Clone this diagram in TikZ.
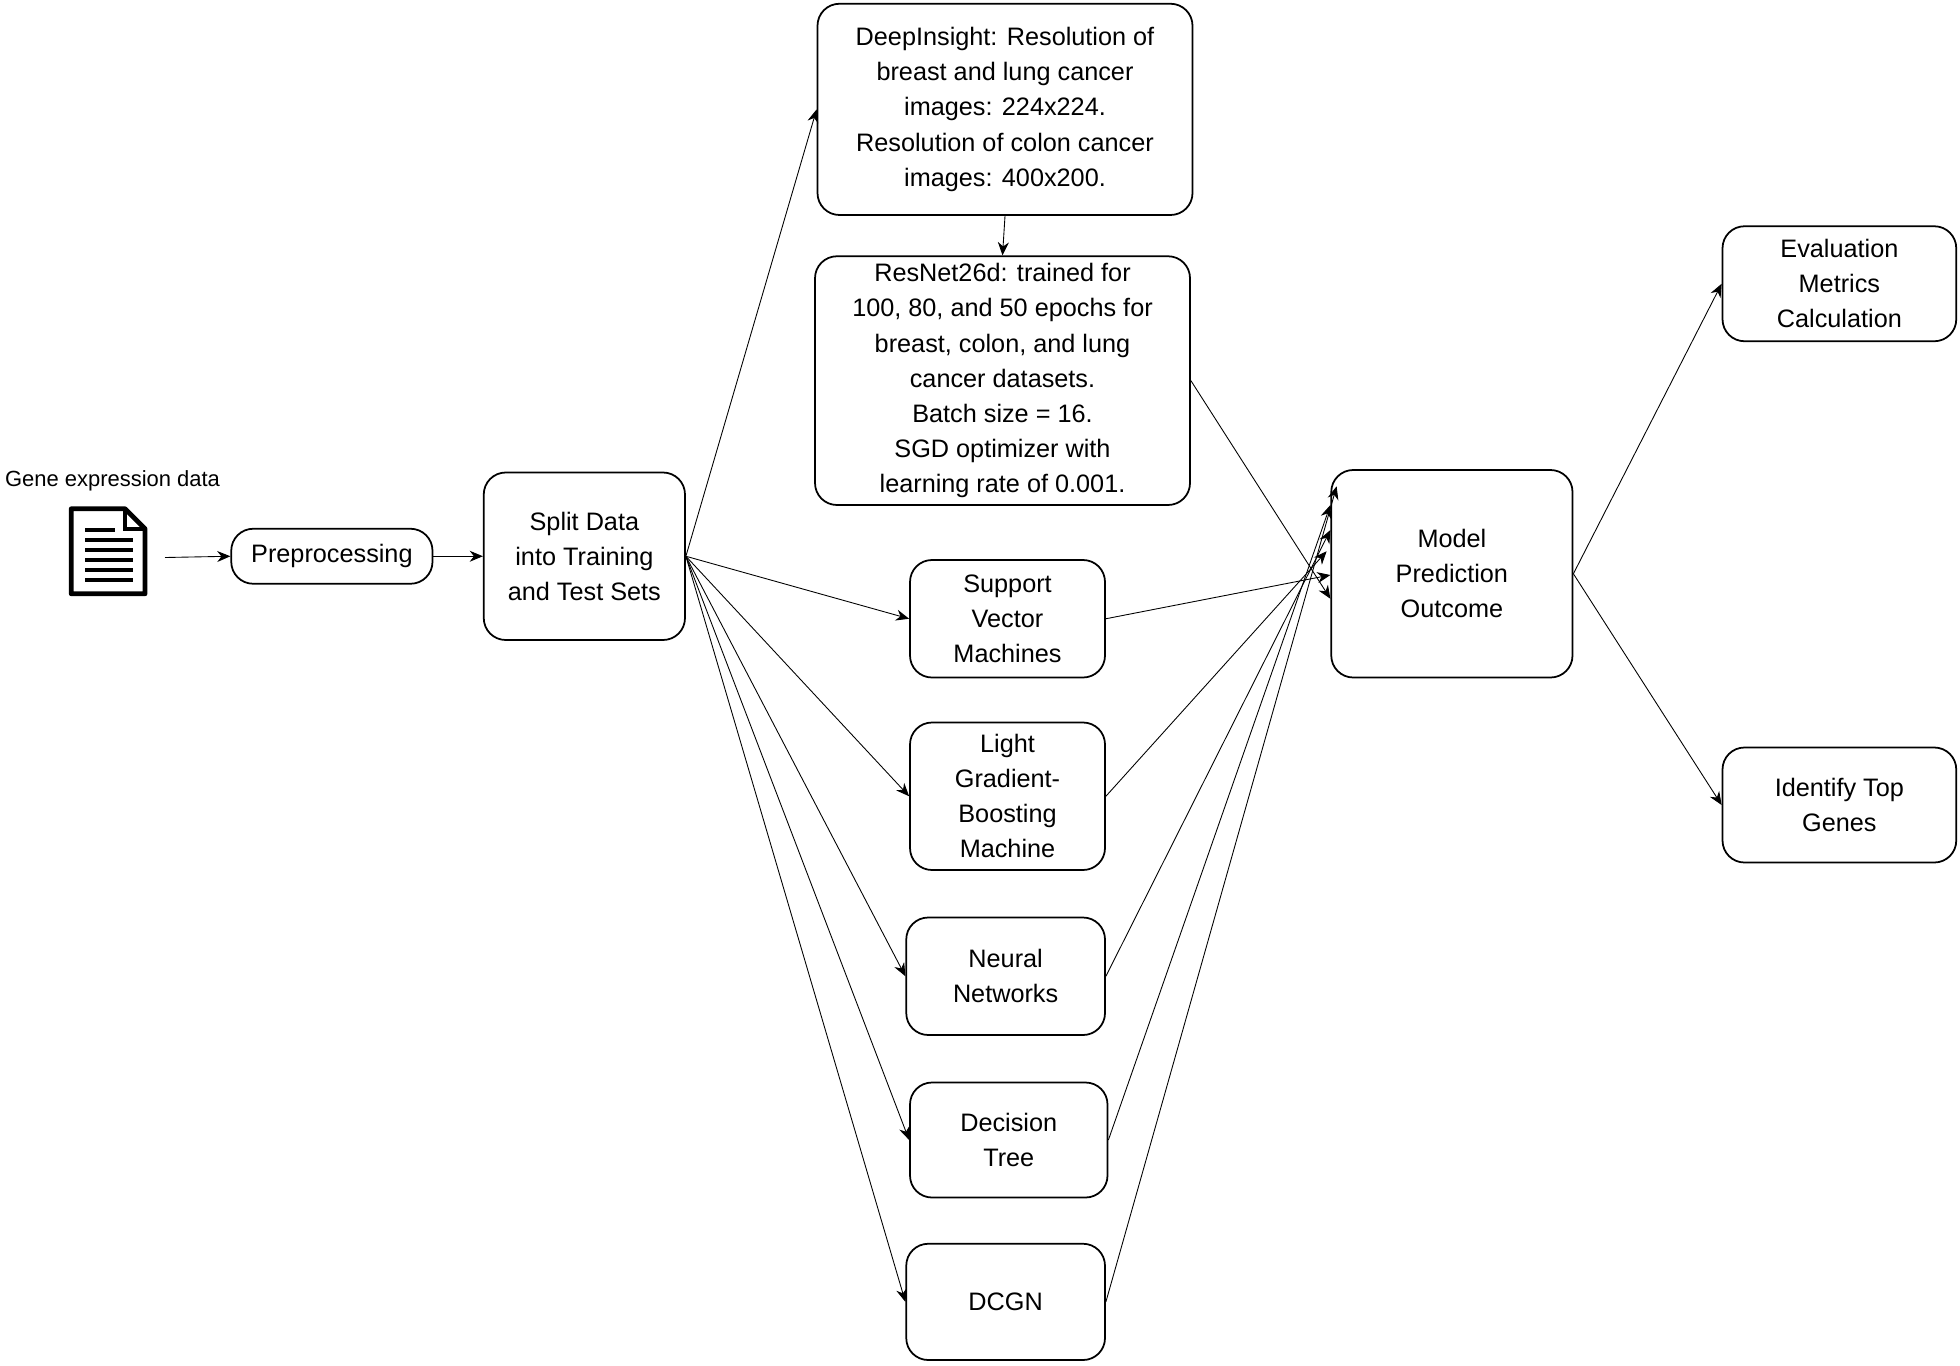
\documentclass[tikz,border=0pt]{standalone}
\usepackage{fontspec}
\setmainfont{Liberation Sans}
\usetikzlibrary{arrows.meta}
\begin{document}
\begin{tikzpicture}[x=0.02cm,y=-0.02cm,
  box/.style={draw,thick,rounded corners=10pt,align=center,inner sep=2pt,font=\fontsize{11.5}{16}\selectfont},
  arr/.style={-{Stealth[length=6pt,width=5pt]},thin}]
\useasboundingbox (0,0) rectangle (1568,1092);
\newcommand{\bx}[6]{\node[box,minimum width={(#4-#2)*0.02cm},minimum height={(#5-#3)*0.02cm}] (#1) at ({(#2+#4)/2},{(#3+#5)/2}) {#6};}
\bx{pre}{185}{423}{346}{467}{Preprocessing}
\bx{split}{387}{378}{548}{512}{Split Data\\into Training\\and Test Sets}
\bx{deep}{654}{3}{954}{172}{DeepInsight: Resolution of\\breast and lung cancer\\images: 224x224.\\Resolution of colon cancer\\images: 400x200.}
\bx{res}{652}{205}{952}{404}{ResNet26d: trained for\\100, 80, and 50 epochs for\\breast, colon, and lung\\cancer datasets.\\Batch size = 16.\\SGD optimizer with\\learning rate of 0.001.}
\bx{svm}{728}{448}{884}{542}{Support\\Vector\\Machines}
\bx{lgb}{728}{578}{884}{696}{Light\\Gradient-\\Boosting\\Machine}
\bx{nn}{725}{734}{884}{828}{Neural\\Networks}
\bx{dt}{728}{866}{886}{958}{Decision\\Tree}
\bx{dcgn}{725}{995}{884}{1088}{DCGN}
\bx{model}{1065}{376}{1258}{542}{Model\\Prediction\\Outcome}
\bx{eval}{1378}{181}{1565}{273}{Evaluation\\Metrics\\Calculation}
\bx{top}{1378}{598}{1565}{690}{Identify Top\\Genes}
% document icon
\node[font=\fontsize{10}{12}\selectfont] (lbl) at (90,385) {Gene expression data};
\draw[line width=2.2pt,line join=round] (57,407) -- (100,407) -- (116,423) -- (116,475) -- (57,475) -- cycle;
\draw[line width=2pt] (100,407) -- (100,423) -- (116,423);
\foreach \yy in {432,440,448,456,464} \draw[line width=1.6pt] (68,\yy) -- (106,\yy);
\draw[line width=1.6pt] (68,424) -- (92,424);
\coordinate (icon) at (132,446);
\draw[arr] (icon) -- (pre.west);
\draw[arr] (pre.east) -- (split.west);
\draw[arr] (split.east) -- (deep.west);
\draw[arr] (deep.south) -- (res.north);
\foreach \n in {svm,lgb,nn,dt,dcgn} \draw[arr] (split.east) -- (\n.west);
\draw[arr] (res.east) -- ([yshift=-0.4cm]model.west);
\draw[arr] (svm.east) -- ([yshift=-0.02cm]model.west);
\draw[arr] (lgb.east) -- ([yshift=0.36cm,xshift=-0.06cm]model.west);
\draw[arr] (nn.east) -- ([yshift=0.7cm,xshift=0.0cm]model.west);
\draw[arr] (dt.east) -- ([yshift=1.1cm]model.west);
\draw[arr] (dcgn.east) -- ([yshift=1.4cm,xshift=0.1cm]model.west);
\draw[arr] (model.east) -- (eval.west);
\draw[arr] (model.east) -- (top.west);
\end{tikzpicture}
\end{document}
